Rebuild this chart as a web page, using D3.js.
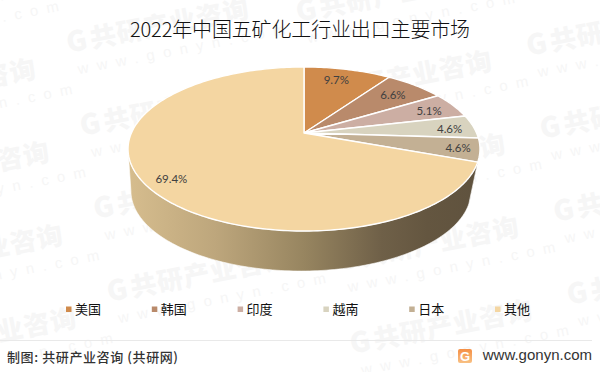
<!DOCTYPE html>
<html>
<head>
<meta charset="utf-8">
<script src="https://cdn.jsdelivr.net/npm/d3@7"></script>
<style>
    html, body { margin: 0; padding: 0; background: #fff; }
    svg { display: block; font-family: "Noto Sans CJK SC", sans-serif; }
</style>
</head>
<body>
<div id="chart"></div>
<script>
const categories = ["美国", "韩国", "印度", "越南", "日本", "其他"]
const shares = [9.7, 6.6, 5.1, 4.6, 4.6, 69.4]
const colors = ["#d08b4c", "#b98a6b", "#ccaea3", "#d8d3bf", "#c3b094", "#f4d6a2"]
const title = "2022年中国五矿化工行业出口主要市场"
const source = "制图: 共研产业咨询 (共研网)"
const website = "www.gonyn.com"

const width = 600
const height = 372

// 3D pie: the disc is a circle seen in perspective, k is the depth foreshortening
const k = 0.195
const topFace = {x0: 304, y0: 133, a: 172.6, b: 78.9}
const bottomFace = {x0: 301, y0: 175.4, a: 166.8, b: 77}

// labels sit at slightly different places in the original
const labelRadius = [0.78, 0.8, 0.83, 0.87, 0.88, 0.86]
const labelNudge = [[-3, -2], [-2, 1], [0, 1], [-2, 1], [0, 0], [2, 3]]

function project(face, r, angle) {
    const w = 1 + k * r * Math.cos(angle)
    return [
        face.x0 + face.a * r * Math.sin(angle) / w,
        face.y0 - face.b * r * Math.cos(angle) / w
    ]
}

function sampleAngles(start, end) {
    const n = Math.max(2, Math.ceil((end - start) / 0.02))
    return d3.range(n + 1).map(i => start + (end - start) * i / n)
}

const line = d3.line()
const svg = d3.select("#chart").append("svg")
    .attr("width", width)
    .attr("height", height)

// Watermark

const watermarkColumns = [[-146, 105], [67, 45], [310, 97], [527, 48]]
const watermarkRows = d3.range(-1, 4)
const watermark = svg.append("g").attr("fill", "#f6f6f6")

watermarkColumns.forEach(col => {
    watermarkRows.forEach(row => {
        const g = watermark.append("g")
            .attr("transform", `translate(${col[0] + 13.5 * row},${col[1] + 83 * row}) rotate(-11)`)
        g.append("text")
            .attr("y", 8)
            .style("font-size", "28px")
            .style("font-weight", 900)
            .text("G")
        g.append("text")
            .attr("x", 24)
            .attr("y", 8)
            .style("font-size", "26px")
            .style("font-weight", 900)
            .style("letter-spacing", "1px")
            .text("共研产业咨询")
        g.append("text")
            .attr("x", 6)
            .attr("y", 31)
            .style("font-family", "'Liberation Sans', sans-serif")
            .style("font-size", "15px")
            .style("letter-spacing", "8.5px")
            .text("www.gonyn.com")
    })
})

// Side gradient

const defs = svg.append("defs")
const wallGradient = defs.append("linearGradient")
    .attr("id", "wall-gradient")
    .attr("gradientUnits", "userSpaceOnUse")
    .attr("x1", 128)
    .attr("x2", 480)
    .attr("y1", 0)
    .attr("y2", 0)
const wallStops = [[0, "#d6bd8e"], [0.25, "#bda67c"], [0.5, "#978560"], [0.72, "#6f6048"], [0.85, "#645640"], [1, "#5f523e"]]
wallStops.forEach(s => wallGradient.append("stop").attr("offset", s[0]).attr("stop-color", s[1]))

const logoGradient = defs.append("linearGradient")
    .attr("id", "logo-gradient")
    .attr("x1", "0%").attr("x2", "0%")
    .attr("y1", "0%").attr("y2", "100%")
logoGradient.append("stop").attr("offset", 0).attr("stop-color", "#f58f45")
logoGradient.append("stop").attr("offset", 1).attr("stop-color", "#f8c083")

// Pie

const pie = d3.pie().sort(null).startAngle(0).endAngle(2 * Math.PI)
const slices = pie(shares)

const wallStart = Math.PI - Math.asin(Math.sqrt(1 - k * k))
const wallEnd = Math.PI + Math.asin(Math.sqrt(1 - k * k))

svg.append("g")
    .selectAll("path")
    .data(slices.filter(d => d.endAngle > wallStart && d.startAngle < wallEnd))
    .join("path")
    .attr("d", d => {
        const angles = sampleAngles(Math.max(d.startAngle, wallStart), Math.min(d.endAngle, wallEnd))
        const upper = angles.map(a => project(topFace, 1, a))
        const lower = angles.slice().reverse().map(a => project(bottomFace, 1, a))
        return line(upper.concat(lower)) + "Z"
    })
    .attr("fill", "url(#wall-gradient)")
    .attr("stroke", "#fff")
    .attr("stroke-width", 0.6)

svg.append("g")
    .selectAll("path")
    .data(slices)
    .join("path")
    .attr("d", d => {
        const rim = sampleAngles(d.startAngle, d.endAngle).map(a => project(topFace, 1, a))
        return line([[topFace.x0, topFace.y0]].concat(rim)) + "Z"
    })
    .attr("fill", (d, i) => colors[i])
    .attr("stroke", "#fff")
    .attr("stroke-width", 1.4)
    .attr("stroke-linejoin", "round")

svg.append("g")
    .selectAll("text")
    .data(slices)
    .join("text")
    .attr("transform", (d, i) => {
        const p = project(topFace, labelRadius[i], (d.startAngle + d.endAngle) / 2)
        return `translate(${p[0] + labelNudge[i][0]},${p[1] + labelNudge[i][1]})`
    })
    .attr("text-anchor", "middle")
    .attr("dy", "0.36em")
    .attr("fill", "#404040")
    .style("font-family", "Lato, sans-serif")
    .style("font-size", "11.5px")
    .text(d => d.data.toFixed(1) + "%")

// Title

svg.append("text")
    .attr("x", 300)
    .attr("y", 37)
    .attr("text-anchor", "middle")
    .attr("fill", "#111")
    .style("font-size", "20px")
    .style("font-weight", 300)
    .style("letter-spacing", "-0.15px")
    .text(title)

// Legend

const legendX = d3.scalePoint().domain(categories).range([66, 495])
const legend = svg.append("g")
    .selectAll("g")
    .data(categories)
    .join("g")
    .attr("transform", d => `translate(${legendX(d)},309)`)

legend.append("rect")
    .attr("x", 0)
    .attr("y", -2.5)
    .attr("width", 5.5)
    .attr("height", 5.5)
    .attr("fill", (d, i) => colors[i])

legend.append("text")
    .attr("x", 9)
    .attr("y", 5)
    .attr("fill", "#111")
    .style("font-size", "13px")
    .text(d => d)

// Footer

svg.append("line")
    .attr("x1", 0)
    .attr("x2", 592)
    .attr("y1", 340.5)
    .attr("y2", 340.5)
    .attr("stroke", "#e9e9e9")

svg.append("text")
    .attr("x", 7)
    .attr("y", 362)
    .attr("fill", "#333")
    .style("font-size", "13px")
    .style("font-weight", 500)
    .style("letter-spacing", "0.6px")
    .text(source)

svg.append("rect")
    .attr("x", 458)
    .attr("y", 349)
    .attr("width", 14)
    .attr("height", 14)
    .attr("rx", 2)
    .attr("fill", "url(#logo-gradient)")

svg.append("text")
    .attr("x", 465)
    .attr("y", 360.5)
    .attr("text-anchor", "middle")
    .attr("fill", "#fff")
    .style("font-family", "'Liberation Sans', sans-serif")
    .style("font-size", "13px")
    .style("font-weight", 700)
    .text("G")

svg.append("text")
    .attr("x", 592)
    .attr("y", 360)
    .attr("text-anchor", "end")
    .attr("fill", "#333")
    .style("font-family", "'Liberation Sans', sans-serif")
    .style("font-size", "15px")
    .text(website)
</script>
</body>
</html>
